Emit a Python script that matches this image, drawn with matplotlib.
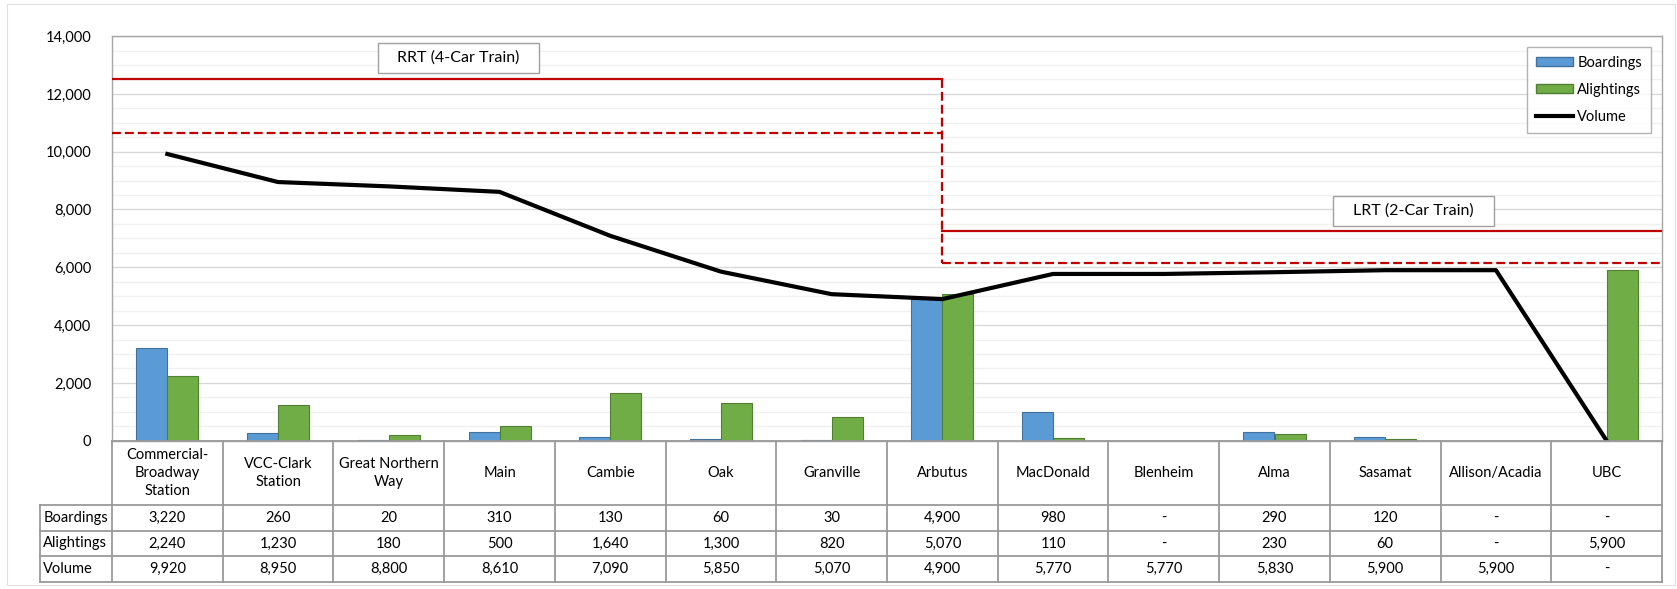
import matplotlib
matplotlib.use('Agg')
import matplotlib.pyplot as plt
from matplotlib.patches import Patch, Rectangle
from matplotlib.lines import Line2D
from matplotlib.ticker import MultipleLocator, FuncFormatter

plt.rcParams['font.family'] = ['Lato', 'DejaVu Sans']

# station-by-station ridership (None = no value, shown as "-")
stations = ["Commercial-\nBroadway\nStation", "VCC-Clark\nStation", "Great Northern\nWay",
            "Main", "Cambie", "Oak", "Granville", "Arbutus", "MacDonald", "Blenheim",
            "Alma", "Sasamat", "Allison/Acadia", "UBC"]
boardings = [3220, 260, 20, 310, 130, 60, 30, 4900, 980, None, 290, 120, None, None]
alightings = [2240, 1230, 180, 500, 1640, 1300, 820, 5070, 110, None, 230, 60, None, 5900]
volume = [9920, 8950, 8800, 8610, 7090, 5850, 5070, 4900, 5770, 5770, 5830, 5900, 5900, None]

# line capacities (passengers per hour per direction)
rrt_label = "RRT (4-Car Train)"
lrt_label = "LRT (2-Car Train)"
rrt_capacity = 12500
rrt_practical = 10650
lrt_capacity = 7250
lrt_practical = 6150
switch_station = "Arbutus"

BLUE = "#5B9BD5"
BLUE_EDGE = "#41719C"
GREEN = "#70AD47"
GREEN_EDGE = "#507E32"
RED = "#C00000"
GRID = "#A6A6A6"

W, H = 1677, 589
fig = plt.figure(figsize=(W / 100, H / 100), dpi=100)

# chart area border
fig.patches.append(Rectangle((7 / W, 1 - 585 / H), 1668 / W, 581 / H, transform=fig.transFigure,
                             fill=False, edgecolor="#E0E0E0", lw=0.8))

ax = fig.add_axes([112 / W, 1 - 440.7 / H, 1550 / W, 404.6 / H])
n = len(stations)
x = list(range(n))
zero = lambda v: 0 if v is None else v

bw = 0.28
ax.bar([i - bw / 2 for i in x], [zero(v) for v in boardings], width=bw, color=BLUE,
       edgecolor=BLUE_EDGE, lw=0.8, zorder=3, label="Boardings")
ax.bar([i + bw / 2 for i in x], [zero(v) for v in alightings], width=bw, color=GREEN,
       edgecolor=GREEN_EDGE, lw=0.8, zorder=3, label="Alightings")
ax.plot(x, [zero(v) for v in volume], color="black", lw=3, zorder=5, label="Volume")

# capacity lines
xs = stations.index(switch_station)
ax.plot([-0.5, xs], [rrt_capacity, rrt_capacity], color=RED, lw=1.6, zorder=4)
ax.plot([-0.5, xs], [rrt_practical, rrt_practical], color=RED, lw=1.6, dashes=(4, 1.8), zorder=4)
ax.plot([xs, xs], [rrt_capacity, lrt_practical], color=RED, lw=1.6, dashes=(4, 1.8), zorder=4)
ax.plot([xs, n - 0.5], [lrt_capacity, lrt_capacity], color=RED, lw=1.6, zorder=4)
ax.plot([xs, n - 0.5], [lrt_practical, lrt_practical], color=RED, lw=1.6, dashes=(4, 1.8), zorder=4)


def label_box(cx, cy, text, w=161, h=30):
    # boxed caption, position given in figure pixels from top-left
    fig.patches.append(Rectangle(((cx - w / 2) / W, 1 - (cy + h / 2) / H), w / W, h / H,
                                 transform=fig.transFigure, facecolor="white",
                                 edgecolor="#A0A0A0", lw=1, zorder=6))
    fig.text(cx / W, 1 - cy / H, text, ha="center", va="center", fontsize=11.5, zorder=7)


label_box(458, 58, rrt_label)
label_box(1413, 211, lrt_label)

ax.set_xlim(-0.5, n - 0.5)
ax.set_ylim(0, 14000)
ax.yaxis.set_major_locator(MultipleLocator(2000))
ax.yaxis.set_minor_locator(MultipleLocator(500))
ax.yaxis.set_major_formatter(FuncFormatter(lambda v, p: f"{int(v):,}"))
ax.grid(which="major", axis="y", color="#D9D9D9", lw=1, zorder=0)
ax.grid(which="minor", axis="y", color="#F0F0F0", lw=1, zorder=0)
ax.set_axisbelow(True)
ax.tick_params(axis="y", which="both", length=0, pad=15, labelsize=10.5)
ax.tick_params(axis="x", which="both", length=0, labelbottom=False)
for s in ax.spines.values():
    s.set_color(GRID)
    s.set_linewidth(1)

handles = [Patch(facecolor=BLUE, edgecolor=BLUE_EDGE, label="Boardings"),
           Patch(facecolor=GREEN, edgecolor=GREEN_EDGE, label="Alightings"),
           Line2D([], [], color="black", lw=3, label="Volume")]
leg = ax.legend(handles=handles, loc="upper left", bbox_to_anchor=(1527 / W, 1 - 47 / H),
                bbox_transform=fig.transFigure, fontsize=10.5, frameon=True, fancybox=False,
                handlelength=2.55, handleheight=0.55, handletextpad=0.3, labelspacing=0.9,
                borderpad=0.6, borderaxespad=0)
leg.get_frame().set_edgecolor("#A0A0A0")
leg.get_frame().set_linewidth(1)
leg.set_zorder(10)

# data table under the chart
tab = fig.add_axes([40 / W, 1 - 581.7 / H, 1622 / W, 141 / H])
lab_left = -0.5 - 72 / 110.7
tab.set_xlim(lab_left, n - 0.5)
tab.set_ylim(141, 0)
tab.axis("off")
rows = [0, 64.6, 90.3, 115.3, 141]

lc = dict(color="#9A9A9A", lw=1.3, clip_on=False)
for i in range(n + 1):
    tab.plot([i - 0.5, i - 0.5], [rows[0], rows[-1]], **lc)
tab.plot([lab_left, lab_left], [rows[1], rows[-1]], **lc)
tab.plot([-0.5, n - 0.5], [rows[0], rows[0]], **lc)
for r in rows[1:]:
    tab.plot([lab_left, n - 0.5], [r, r], **lc)

for i, name in enumerate(stations):
    tab.text(i, (rows[0] + rows[1]) / 2, name, ha="center", va="center", fontsize=10.5,
             linespacing=1.37)

fmt = lambda v: "-" if v is None else f"{v:,}"
for k, (label, vals) in enumerate([("Boardings", boardings), ("Alightings", alightings),
                                   ("Volume", volume)]):
    yc = (rows[k + 1] + rows[k + 2]) / 2
    tab.text(lab_left + 0.03, yc, label, ha="left", va="center", fontsize=10.5)
    for i, v in enumerate(vals):
        tab.text(i, yc, fmt(v), ha="center", va="center", fontsize=10.5)

fig.savefig("out.png", dpi=100)
